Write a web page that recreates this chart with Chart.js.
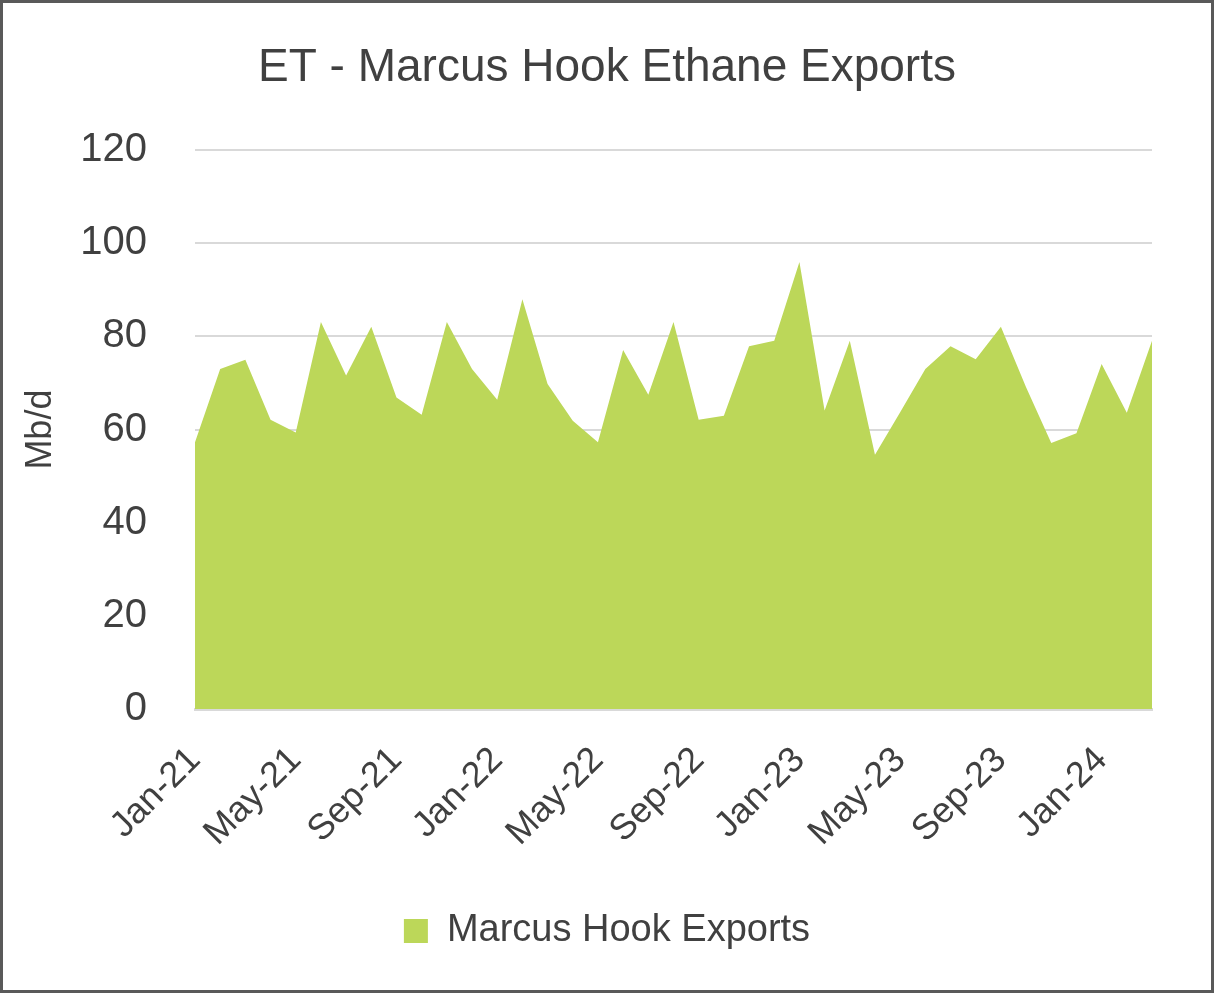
<!DOCTYPE html>
<html>
<head>
<meta charset="utf-8">
<script src="https://cdn.jsdelivr.net/npm/chart.js@4.4.1/dist/chart.umd.min.js"></script>
<style>
  html, body { margin: 0; padding: 0; background: #fff; }
  #wrap { position: relative; width: 1214px; height: 993px; }
  #frame { position: absolute; left: 0; top: 0; width: 1214px; height: 993px; box-sizing: border-box; border: 3px solid #595959; pointer-events: none; }
</style>
</head>
<body>
<div id="wrap">
  <canvas id="chart"></canvas>
  <div id="frame"></div>
</div>
<script>
// monthly labels, Jan-21 .. Mar-24
const months = [
  "Jan-21", "Feb-21", "Mar-21", "Apr-21", "May-21", "Jun-21", "Jul-21", "Aug-21", "Sep-21", "Oct-21", "Nov-21", "Dec-21",
  "Jan-22", "Feb-22", "Mar-22", "Apr-22", "May-22", "Jun-22", "Jul-22", "Aug-22", "Sep-22", "Oct-22", "Nov-22", "Dec-22",
  "Jan-23", "Feb-23", "Mar-23", "Apr-23", "May-23", "Jun-23", "Jul-23", "Aug-23", "Sep-23", "Oct-23", "Nov-23", "Dec-23",
  "Jan-24", "Feb-24", "Mar-24"
];

// Marcus Hook exports, Mb/d
const exportsMbd = [
  57.3, 73.0, 75.0, 62.1, 59.4, 83.1, 71.6, 82.1, 66.9, 63.2, 83.1, 73.0,
  66.4, 88.0, 69.8, 61.9, 57.3, 77.1, 67.5, 83.1, 62.1, 63.0, 77.9, 79.1,
  96.0, 64.1, 79.1, 54.6, 63.7, 73.0, 77.9, 75.1, 82.1, 69.1, 57.1, 59.2,
  74.1, 63.6, 79.1
];

const yMin = 0;
const yMax = 120;
const yStep = 20;
const labelEvery = 4;

const green = "#bcd759";
const textColor = "#404040";
const gridColor = "#d9d9d9";
const fontName = "'Liberation Sans', Arial, sans-serif";

const config = {
  type: 'line',
  data: {
    labels: months,
    datasets: [{
      label: "Marcus Hook Exports",
      data: exportsMbd,
      backgroundColor: green,
      borderColor: green,
      borderWidth: 0,
      pointRadius: 0,
      tension: 0,
      fill: 'origin'
    }]
  },
  options: {
    responsive: true,
    maintainAspectRatio: false,
    animation: false,
    layout: {
      padding: { top: 20, right: 0, bottom: 33, left: 0 }
    },
    plugins: {
      title: {
        display: true,
        text: "ET - Marcus Hook Ethane Exports",
        color: textColor,
        font: { family: fontName, size: 46, weight: 'normal' },
        padding: { top: 21, bottom: 54 }
      },
      legend: {
        position: 'bottom',
        labels: {
          color: textColor,
          font: { family: fontName, size: 38 },
          boxWidth: 24,
          boxHeight: 24,
          padding: 10
        }
      },
      tooltip: { enabled: false }
    },
    scales: {
      x: {
        grid: { display: false },
        border: { display: true, color: gridColor, width: 3 },
        ticks: {
          color: textColor,
          font: { family: fontName, size: 36 },
          autoSkip: false,
          maxRotation: 45,
          minRotation: 45,
          padding: 22,
          callback: function(value, index) {
            return index % labelEvery === 0 ? months[index] : '';
          }
        },
        afterFit: function(scale) { scale.height = 193; }
      },
      y: {
        min: yMin,
        max: yMax,
        grid: { color: gridColor, lineWidth: 2, drawTicks: false },
        border: { display: false },
        ticks: {
          stepSize: yStep,
          color: textColor,
          font: { family: fontName, size: 40 },
          padding: 48
        },
        title: {
          display: true,
          text: "Mb/d",
          color: textColor,
          font: { family: fontName, size: 36 },
          padding: { top: 19, bottom: 0 }
        },
        afterFit: function(scale) { scale.width = 195; }
      },
      // empty right-hand strip so the title and legend centre on the whole frame
      yRight: {
        position: 'right',
        display: true,
        grid: { display: false },
        border: { display: false },
        ticks: { display: false },
        afterFit: function(scale) { scale.width = 62; }
      }
    }
  }
};

const context = document.getElementById("chart");
const chart = new Chart(context, config);
</script>
</body>
</html>
